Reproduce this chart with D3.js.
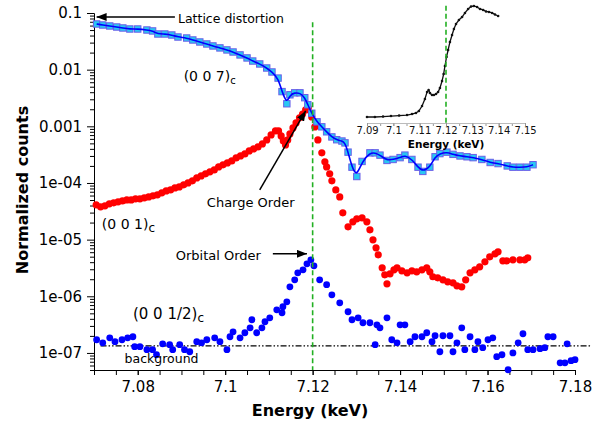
<!DOCTYPE html>
<html>
<head>
<meta charset="utf-8">
<script src="https://cdn.jsdelivr.net/npm/d3@7"></script>
<style>
body { margin: 0; background: #fff; }
text { font-family: "DejaVu Sans", Verdana, sans-serif; }
</style>
</head>
<body>
<svg id="fig" width="603" height="424"></svg>
<script>
// (0 0 7)c  - lattice reflection, cyan squares + blue guide line
const energy007 = [7.0706, 7.0720, 7.0736, 7.0752, 7.0766, 7.0782, 7.0800, 7.0821, 7.0834, 7.0846,
  7.0862, 7.0878, 7.0892, 7.0912, 7.0926, 7.0942, 7.0958, 7.0972, 7.0988, 7.1004,
  7.1018, 7.1034, 7.1050, 7.1063, 7.1079, 7.1095, 7.1107, 7.1121, 7.1130, 7.1141,
  7.1148, 7.1159, 7.1171, 7.1182, 7.1189, 7.1198, 7.1210, 7.1221, 7.1232, 7.1244,
  7.1255, 7.1267, 7.1274, 7.1281, 7.1290, 7.1301, 7.1313, 7.1331, 7.1343, 7.1354,
  7.1370, 7.1384, 7.1400, 7.1411, 7.1427, 7.1441, 7.1452, 7.1468, 7.1480, 7.1491,
  7.1507, 7.1521, 7.1537, 7.1553, 7.1567, 7.1587, 7.1606, 7.1624, 7.1645, 7.1658,
  7.1674, 7.1690, 7.1704];
const counts007 = [0.0640, 0.0614, 0.0590, 0.0566, 0.0544, 0.0522, 0.0522, 0.0501, 0.0482, 0.0426,
  0.0426, 0.0409, 0.0377, 0.0362, 0.0334, 0.0308, 0.0284, 0.0262, 0.0242, 0.0223,
  0.0205, 0.0182, 0.0161, 0.0142, 0.0126, 0.0107, 0.0091, 0.0071, 0.0041, 0.0025,
  0.0036, 0.0039, 0.0039, 0.0032, 0.0024, 0.0017, 0.0012, 9.8e-4, 8.0e-4, 6.5e-4,
  5.8e-4, 5.5e-4, 5.1e-4, 3.5e-4, 1.9e-4, 1.3e-4, 2.4e-4, 3.4e-4, 3.4e-4, 3.1e-4,
  2.5e-4, 2.6e-4, 2.8e-4, 3.1e-4, 2.6e-4, 1.9e-4, 1.6e-4, 1.9e-4, 2.9e-4, 3.3e-4,
  3.5e-4, 3.2e-4, 3.0e-4, 2.9e-4, 2.8e-4, 2.6e-4, 2.3e-4, 2.2e-4, 2.0e-4, 1.9e-4,
  1.9e-4, 1.9e-4, 2.1e-4];

// (0 0 1)c - charge order, red dots
const energy001 = [7.0705, 7.0715, 7.0725, 7.0735, 7.0745, 7.0755, 7.0765, 7.0775, 7.0785, 7.0795,
  7.0805, 7.0815, 7.0825, 7.0835, 7.0845, 7.0855, 7.0865, 7.0875, 7.0885, 7.0895,
  7.0905, 7.0915, 7.0925, 7.0935, 7.0945, 7.0955, 7.0965, 7.0975, 7.0985, 7.0995,
  7.1005, 7.1015, 7.1025, 7.1035, 7.1045, 7.1055, 7.1065, 7.1075, 7.1085, 7.1095,
  7.1105, 7.1115, 7.1122, 7.1128, 7.1133, 7.1138, 7.1143, 7.1148, 7.1155, 7.1162,
  7.1170, 7.1177, 7.1184, 7.1190, 7.1198, 7.1205, 7.1212, 7.1221, 7.1228, 7.1232,
  7.1239, 7.1244, 7.1253, 7.1262, 7.1269, 7.1281, 7.1292, 7.1301, 7.1313, 7.1324,
  7.1331, 7.1338, 7.1345, 7.1350, 7.1359, 7.1365, 7.1370, 7.1377, 7.1386, 7.1393,
  7.1404, 7.1416, 7.1427, 7.1438, 7.1450, 7.1461, 7.1468, 7.1475, 7.1486, 7.1498,
  7.1509, 7.1521, 7.1530, 7.1541, 7.1550, 7.1560, 7.1571, 7.1582, 7.1594, 7.1605,
  7.1617, 7.1624, 7.1635, 7.1644, 7.1658, 7.1674, 7.1685, 7.1692];
const counts001 = [4.11e-5, 3.79e-5, 3.95e-5, 4.28e-5, 4.46e-5, 4.64e-5, 4.83e-5, 5.03e-5, 5.03e-5, 5.24e-5,
  5.24e-5, 5.46e-5, 5.68e-5, 5.92e-5, 6.17e-5, 6.69e-5, 7.25e-5, 7.55e-5, 8.19e-5, 8.53e-5,
  9.26e-5, 1.00e-4, 1.09e-4, 1.23e-4, 1.33e-4, 1.45e-4, 1.57e-4, 1.70e-4, 1.92e-4, 2.09e-4,
  2.26e-4, 2.45e-4, 2.77e-4, 3.00e-4, 3.26e-4, 3.68e-4, 3.99e-4, 4.33e-4, 4.89e-4, 5.75e-4,
  7.05e-4, 8.30e-4, 8.30e-4, 6.77e-4, 5.53e-4, 4.70e-4, 5.75e-4, 7.34e-4, 9.37e-4, 1.15e-3,
  1.41e-3, 1.65e-3, 1.95e-3, 2.11e-3, 1.46e-3, 9.76e-4, 5.75e-4, 3.40e-4, 2.36e-4, 1.92e-4,
  1.45e-4, 1.09e-4, 7.55e-5, 5.68e-5, 2.97e-5, 1.68e-5, 2.06e-5, 2.33e-5, 2.42e-5, 2.06e-5,
  1.49e-5, 9.92e-6, 7.17e-6, 5.39e-6, 3.18e-6, 2.39e-6, 1.66e-6, 2.49e-6, 2.93e-6, 3.18e-6,
  2.82e-6, 2.60e-6, 2.82e-6, 2.70e-6, 2.93e-6, 3.18e-6, 2.70e-6, 2.21e-6, 2.12e-6, 1.95e-6,
  1.80e-6, 1.73e-6, 1.53e-6, 1.47e-6, 1.95e-6, 2.60e-6, 2.93e-6, 3.31e-6, 4.06e-6, 4.97e-6,
  5.62e-6, 6.09e-6, 4.23e-6, 4.23e-6, 4.40e-6, 4.40e-6, 4.40e-6, 4.77e-6];

// (0 0 1/2)c - orbital order, blue dots
const energyHalf = [7.0706, 7.0720, 7.0736, 7.0748, 7.0764, 7.0777, 7.0789, 7.0793, 7.0805, 7.0821,
  7.0834, 7.0843, 7.0857, 7.0873, 7.0880, 7.0896, 7.0907, 7.0919, 7.0935, 7.0946,
  7.0958, 7.0976, 7.0988, 7.1004, 7.1011, 7.1018, 7.1034, 7.1045, 7.1057, 7.1061,
  7.1072, 7.1084, 7.1091, 7.1102, 7.1118, 7.1130, 7.1132, 7.1141, 7.1148, 7.1159,
  7.1166, 7.1178, 7.1187, 7.1196, 7.1203, 7.1216, 7.1232, 7.1244, 7.1262, 7.1281,
  7.1290, 7.1304, 7.1315, 7.1331, 7.1343, 7.1347, 7.1354, 7.1370, 7.1381, 7.1393,
  7.1400, 7.1411, 7.1423, 7.1434, 7.1450, 7.1461, 7.1473, 7.1480, 7.1491, 7.1498,
  7.1514, 7.1521, 7.1530, 7.1541, 7.1548, 7.1560, 7.1571, 7.1578, 7.1589, 7.1601,
  7.1612, 7.1621, 7.1633, 7.1647, 7.1658, 7.1670, 7.1681, 7.1692, 7.1704, 7.1720,
  7.1731, 7.1738, 7.1750, 7.1766, 7.1777, 7.1782, 7.1791, 7.1800];
const countsHalf = [1.71e-7, 1.51e-7, 1.85e-7, 1.58e-7, 1.71e-7, 1.85e-7, 1.93e-7, 1.29e-7, 1.29e-7, 1.14e-7,
  1.14e-7, 9.3e-8, 1.45e-7, 1.40e-7, 1.14e-7, 1.40e-7, 1.14e-7, 1.05e-7, 1.58e-7, 1.51e-7,
  1.71e-7, 1.85e-7, 1.58e-7, 1.14e-7, 1.93e-7, 2.36e-7, 1.85e-7, 2.27e-7, 2.78e-7, 3.85e-7,
  2.27e-7, 2.78e-7, 3.55e-7, 4.17e-7, 5.78e-7, 5.12e-7, 6.53e-7, 8.0e-7, 1.47e-6, 1.95e-6,
  2.60e-6, 2.93e-6, 3.74e-6, 4.40e-6, 3.45e-6, 1.95e-6, 1.60e-6, 1.06e-6, 7.68e-7, 5.33e-7,
  3.85e-7, 4.17e-7, 3.41e-7, 3.41e-7, 1.40e-7, 3.14e-7, 2.78e-7, 4.17e-7, 1.71e-7, 1.51e-7,
  3.14e-7, 3.14e-7, 1.58e-7, 1.93e-7, 1.93e-7, 2.27e-7, 1.58e-7, 2.01e-7, 1.05e-7, 2.01e-7,
  2.01e-7, 1.05e-7, 1.51e-7, 2.78e-7, 1.14e-7, 1.93e-7, 1.14e-7, 1.58e-7, 1.24e-7, 1.71e-7,
  1.85e-7, 8.6e-8, 9.3e-8, 5.05e-8, 1.0e-7, 1.51e-7, 2.18e-7, 1.14e-7, 1.14e-7, 1.19e-7,
  1.24e-7, 1.93e-7, 1.93e-7, 6.7e-8, 6.7e-8, 1.45e-7, 7.3e-8, 7.6e-8];

// background level and the Fe K-edge (7.12 keV) marker
const backgroundLevel = 1.33e-7;
const backgroundRange = [7.0715, 7.1835];
const edgeEnergy = 7.12;

// inset: absorption spectrum (arb. units)
const energyXanes = [7.0900, 7.0930, 7.0961, 7.0991, 7.1022, 7.1052, 7.1071, 7.1086, 7.1097, 7.1109,
  7.1120, 7.1128, 7.1134, 7.1139, 7.1147, 7.1154, 7.1162, 7.1170, 7.1177, 7.1185,
  7.1191, 7.1196, 7.1202, 7.1208, 7.1215, 7.1223, 7.1230, 7.1238, 7.1249, 7.1261,
  7.1272, 7.1284, 7.1295, 7.1306, 7.1318, 7.1329, 7.1341, 7.1352, 7.1363, 7.1375,
  7.1386, 7.1398];
const absXanes = [0.048, 0.048, 0.054, 0.060, 0.066, 0.072, 0.084, 0.097, 0.121, 0.181,
  0.266, 0.350, 0.374, 0.338, 0.314, 0.314, 0.326, 0.350, 0.398, 0.483,
  0.567, 0.664, 0.772, 0.857, 0.954, 1.038, 1.110, 1.171, 1.219, 1.255,
  1.304, 1.352, 1.382, 1.388, 1.376, 1.352, 1.340, 1.322, 1.316, 1.304,
  1.285, 1.267];

const yMajor = [1e-7, 1e-6, 1e-5, 1e-4, 1e-3, 1e-2, 1e-1];
const yLabels = ["1e-07", "1e-06", "1e-05", "1e-04", "0.001", "0.01", "0.1"];
const xMajor = [7.08, 7.10, 7.12, 7.14, 7.16, 7.18];
const insetMajor = [7.09, 7.10, 7.11, 7.12, 7.13, 7.14, 7.15];

const fig = d3.select("#fig");
fig.append("rect").attr("width", 603).attr("height", 424).attr("fill", "#fff");

const x = d3.scaleLinear().domain([7.07, 7.18]).range([94, 575]);
const y = d3.scaleLog().domain([5e-8, 0.1]).range([370, 13]);

// arrowhead marker
fig.append("defs").append("marker")
    .attr("id", "arrow")
    .attr("viewBox", "0 0 10 8")
    .attr("refX", 10).attr("refY", 4)
    .attr("markerWidth", 10).attr("markerHeight", 8)
    .attr("markerUnits", "userSpaceOnUse")
    .attr("orient", "auto")
    .append("path").attr("d", "M0,0L10,4L0,8z").attr("fill", "#000");

// ---- axes
const minorY = [];
for (let e = -8; e <= -2; e++)
    for (let m = 2; m <= 9; m++) {
        const v = m * Math.pow(10, e);
        if (v >= 5e-8 && v <= 0.1) minorY.push(v);
    }
const minorX = d3.range(7.07, 7.1801, 0.005);

function styleAxis(g, size) {
    g.attr("font-family", '"DejaVu Sans", sans-serif').attr("font-size", size);
    g.selectAll("line").attr("stroke", "#000");
    g.select(".domain").attr("stroke", "#000");
}

fig.append("g")
    .attr("transform", "translate(94,0)")
    .call(d3.axisLeft(y).tickValues(minorY).tickSize(4).tickSizeOuter(0).tickFormat(""))
    .call(g => styleAxis(g, 15));
fig.append("g")
    .attr("transform", "translate(94,0)")
    .call(d3.axisLeft(y).tickValues(yMajor).tickSize(7).tickSizeOuter(0).tickPadding(5)
        .tickFormat((d, i) => yLabels[i]))
    .call(g => styleAxis(g, 15));

fig.append("g")
    .attr("transform", "translate(0,370)")
    .call(d3.axisBottom(x).tickValues(minorX).tickSize(5).tickSizeOuter(0).tickFormat(""))
    .call(g => styleAxis(g, 15));
fig.append("g")
    .attr("transform", "translate(0,370)")
    .call(d3.axisBottom(x).tickValues(xMajor).tickSize(5).tickSizeOuter(0).tickPadding(6)
        .tickFormat(d => String(+d.toFixed(2))))
    .call(g => styleAxis(g, 15));

fig.append("text")
    .attr("x", 310).attr("y", 416)
    .attr("text-anchor", "middle")
    .attr("font-size", 16).attr("font-weight", "bold")
    .text("Energy (keV)");

fig.append("text")
    .attr("transform", "translate(28,190) rotate(-90)")
    .attr("text-anchor", "middle")
    .attr("font-size", 16).attr("font-weight", "bold")
    .text("Normalized counts");

// ---- background
fig.append("line")
    .attr("x1", x(backgroundRange[0])).attr("x2", x(backgroundRange[1]))
    .attr("y1", y(backgroundLevel)).attr("y2", y(backgroundLevel))
    .attr("stroke", "#000").attr("stroke-width", 1.3)
    .attr("stroke-dasharray", "6,2,1.5,2,1.5,2");

// ---- (0 0 1/2) blue dots
const half = energyHalf.map((e, i) => ({ e, v: countsHalf[i] }));
fig.append("g").selectAll("circle")
    .data(half)
    .join("circle")
    .attr("cx", d => x(d.e)).attr("cy", d => y(d.v))
    .attr("r", 3.4).attr("fill", "#0000ff");

// ---- (0 0 1) red dots
const cs = energy001.map((e, i) => ({ e, v: counts001[i] }));
fig.append("g").selectAll("circle")
    .data(cs)
    .join("circle")
    .attr("cx", d => x(d.e)).attr("cy", d => y(d.v))
    .attr("r", 3.6).attr("fill", "#ff0000");

// ---- (0 0 7) squares and guide line
const latt = energy007.map((e, i) => ({ e, v: counts007[i] }));
fig.append("g").selectAll("rect")
    .data(latt)
    .join("rect")
    .attr("x", d => x(d.e) - 3.2).attr("y", d => y(d.v) - 3.2)
    .attr("width", 6.4).attr("height", 6.4)
    .attr("fill", "#29c8f2").attr("stroke", "#6a5ee8").attr("stroke-width", 1);
fig.append("path")
    .datum(latt)
    .attr("fill", "none").attr("stroke", "#0000ff").attr("stroke-width", 1.6)
    .attr("d", d3.line().x(d => x(d.e)).y(d => y(d.v)).curve(d3.curveBasis));

// ---- 7.12 keV marker
fig.append("line")
    .attr("x1", x(edgeEnergy)).attr("x2", x(edgeEnergy))
    .attr("y1", y(0.069)).attr("y2", 370)
    .attr("stroke", "#22b022").attr("stroke-width", 1.6)
    .attr("stroke-dasharray", "5,3");

// ---- inset
const xi = d3.scaleLinear().domain([7.09, 7.15]).range([367, 525]);
const yi = d3.scaleLinear().domain([0, 1.4]).range([121, 5]);
const inset = fig.append("g");
inset.append("g")
    .attr("transform", "translate(0,123)")
    .call(d3.axisBottom(xi).tickValues(d3.range(7.09, 7.1501, 0.005)).tickSize(3).tickSizeOuter(0).tickFormat(""))
    .call(g => {
        g.selectAll("line").attr("stroke", "#999");
        g.select(".domain").attr("stroke", "#bbb");
    });
inset.append("g")
    .attr("transform", "translate(0,123)")
    .call(d3.axisBottom(xi).tickValues(insetMajor).tickSize(3).tickSizeOuter(0).tickPadding(1)
        .tickFormat(d => String(+d.toFixed(2))))
    .call(g => {
        g.attr("font-family", '"DejaVu Sans", sans-serif').attr("font-size", 10);
        g.selectAll("text").attr("fill", "#111");
        g.selectAll("line").attr("stroke", "#999");
        g.select(".domain").attr("stroke", "#bbb");
    });
inset.append("text")
    .attr("x", xi(7.12)).attr("y", 148)
    .attr("text-anchor", "middle")
    .attr("font-size", 10.5).attr("font-weight", "bold")
    .text("Energy (keV)");

const xanes = energyXanes.map((e, i) => ({ e, v: absXanes[i] }));
inset.append("path")
    .datum(xanes)
    .attr("fill", "none").attr("stroke", "#111").attr("stroke-width", 1.3)
    .attr("d", d3.line().x(d => xi(d.e)).y(d => yi(d.v)));
inset.append("g").selectAll("circle")
    .data(xanes)
    .join("circle")
    .attr("cx", d => xi(d.e)).attr("cy", d => yi(d.v))
    .attr("r", 1.3).attr("fill", "#111");
inset.append("line")
    .attr("x1", xi(edgeEnergy)).attr("x2", xi(edgeEnergy))
    .attr("y1", yi(1.39)).attr("y2", 123)
    .attr("stroke", "#22b022").attr("stroke-width", 1.6)
    .attr("stroke-dasharray", "5,3");

// ---- annotations
function arrow(e0, v0, e1, v1) {
    fig.append("line")
        .attr("x1", x(e0)).attr("y1", y(v0))
        .attr("x2", x(e1)).attr("y2", y(v1))
        .attr("stroke", "#000").attr("stroke-width", 1.5)
        .attr("marker-end", "url(#arrow)");
}
function label(e, v, txt, size, sub, subSize) {
    const t = fig.append("text")
        .attr("x", x(e)).attr("y", y(v))
        .attr("font-size", size).attr("fill", "#000")
        .text(txt);
    if (sub) t.append("tspan").attr("dy", 3).attr("font-size", subSize).text(sub);
}

label(7.0892, 0.0666, "Lattice distortion", 12.5);
arrow(7.0885, 0.085, 7.0706, 0.085);

label(7.0905, 6.32e-3, "(0 0 7)", 14, "c", 10);
label(7.0718, 1.55e-5, "(0 0 1)", 14, "c", 12);

label(7.0958, 3.79e-5, "Charge Order", 13);
arrow(7.1079, 7.55e-5, 7.1184, 1.87e-3);

label(7.0887, 4.40e-6, "Orbital Order", 13);
arrow(7.1109, 5.62e-6, 7.1187, 5.62e-6);

label(7.0789, 4.01e-7, "(0 0 1/2)", 15, "c", 12);
label(7.0770, 6.71e-8, "background", 12.5);
</script>
</body>
</html>
